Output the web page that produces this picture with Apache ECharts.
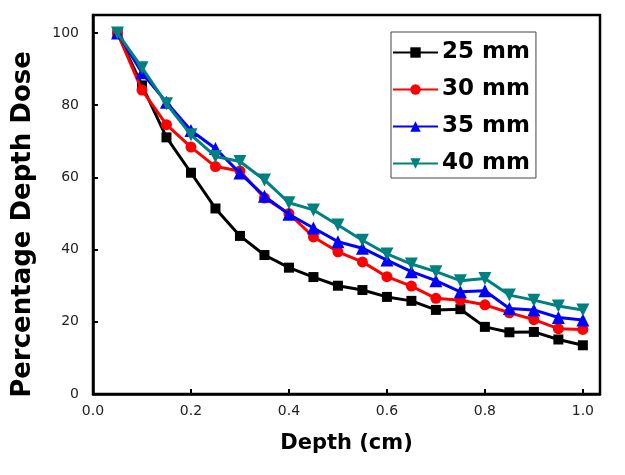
<!DOCTYPE html>
<html>
<head>
<meta charset="utf-8">
<script src="https://cdn.jsdelivr.net/npm/echarts@6/dist/echarts.min.js"></script>
<style>html,body{margin:0;padding:0;background:#fff}#c{width:625px;height:475px}</style>
</head>
<body>
<div id="c"></div>
<script>
const depth = [0.05,0.10,0.15,0.20,0.25,0.30,0.35,0.40,0.45,0.50,0.55,0.60,0.65,0.70,0.75,0.80,0.85,0.90,0.95,1.00];
const d25 = [100,85.5,71.1,61.3,51.4,43.8,38.5,35.0,32.4,30.0,28.8,26.9,25.8,23.3,23.5,18.6,17.1,17.2,15.1,13.5];
const d30 = [100,84.2,74.6,68.4,63.0,61.8,54.3,50.0,43.5,39.4,36.6,32.5,29.9,26.5,26.0,24.7,22.5,20.6,18.1,17.9];
const d35 = [100,89.0,80.8,73.0,68.0,61.2,54.8,49.8,46.0,42.2,40.4,37.1,33.9,31.4,28.3,28.6,23.7,23.3,21.2,20.5];
const d40 = [100,90.4,80.4,71.8,65.8,64.4,59.3,53.0,51.0,46.8,42.6,38.8,36.0,33.9,31.4,32.0,27.4,26.0,24.4,23.3];
const names = ['25 mm','30 mm','35 mm','40 mm'];
const colors = ['#000000','#ff0000','#0000ff','#008080'];
const symbols = ['rect','circle','triangle','path://M0,0 L10,0 L5,10 Z'];
const sizes = [10,11,13,13];
const all = [d25,d30,d35,d40];

const F = '"DejaVu Sans", Arial, sans-serif';
const chart = echarts.init(document.getElementById('c'));
chart.setOption({
  animation:false,
  backgroundColor:'#fff',
  grid:{left:93,right:25,top:15,bottom:81,show:true,borderColor:'#000',borderWidth:2.5,backgroundColor:'transparent'},
  legend:{
    orient:'vertical',left:391,top:32,
    backgroundColor:'#fff',
    borderColor:'#444',borderWidth:1,borderRadius:0,
    padding:[9,6,3,1],
    itemWidth:45,itemHeight:13,itemGap:14,
    textStyle:{fontFamily:F,fontWeight:'bold',fontSize:23,color:'#000',padding:[0,0,0,-1]},
    data:names
  },
  xAxis:{
    type:'value',min:0,max:1.035,interval:0.2,
    name:'Depth (cm)',nameLocation:'middle',nameGap:39,
    nameTextStyle:{fontFamily:F,fontWeight:'bold',fontSize:21,color:'#000'},
    axisLine:{onZero:false,lineStyle:{color:'#000',width:2.5}},
    axisTick:{inside:true,length:5,lineStyle:{color:'#000',width:2}},
    axisLabel:{fontFamily:F,fontSize:14,color:'#222',margin:10,
      formatter:v=>(Math.abs(v*5-Math.round(v*5))<1e-6)?v.toFixed(1):'' ,showMaxLabel:false},
    splitLine:{show:false}
  },
  yAxis:{
    type:'value',min:0,max:105,interval:20,
    name:'Percentage Depth Dose',nameLocation:'middle',nameGap:57,
    nameTextStyle:{fontFamily:F,fontWeight:'bold',fontSize:26,color:'#000',padding:[0,40,0,0]},
    axisLine:{onZero:false,lineStyle:{color:'#000',width:2.5}},
    axisTick:{inside:true,length:5,lineStyle:{color:'#000',width:2}},
    axisLabel:{fontFamily:F,fontSize:14,color:'#222',margin:14,
      formatter:v=>(v%20===0)?String(v):'',showMaxLabel:false},
    splitLine:{show:false}
  },
  series: names.map((n,i)=>({
    name:n,type:'line',
    data: depth.map((x,j)=>[x,all[i][j]]),
    symbol:symbols[i],symbolSize:sizes[i],showAllSymbol:true,
    lineStyle:{color:colors[i],width:3},
    itemStyle:{color:colors[i]},
    z: 2+i
  }))
});
</script>
</body>
</html>
